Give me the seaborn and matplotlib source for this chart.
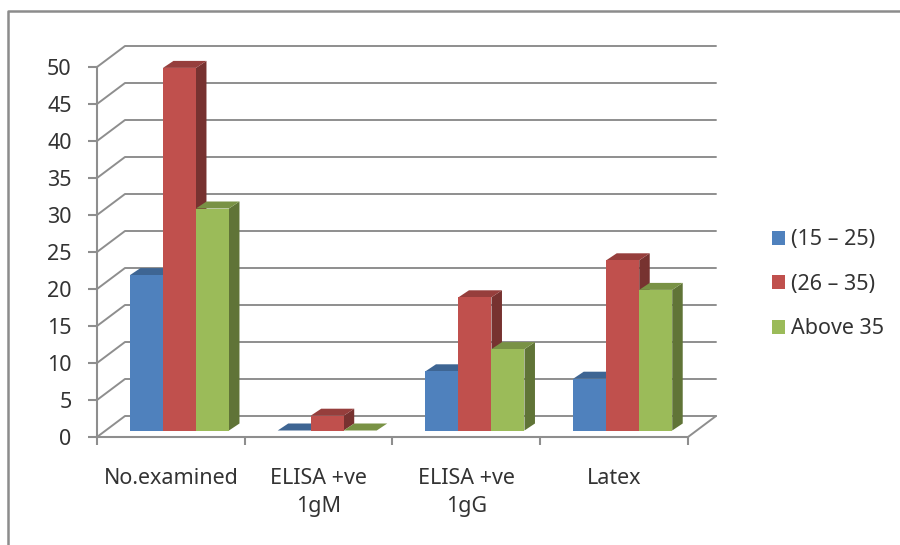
import numpy as np
import pandas as pd
import seaborn as sns
import matplotlib.pyplot as plt
from matplotlib.colors import to_rgb
from matplotlib.lines import Line2D
from matplotlib.patches import Polygon

tests = ["No.examined", "ELISA +ve\n1gM", "ELISA +ve\n1gG", "Latex"]
groups = ["(15 – 25)", "(26 – 35)", "Above 35"]
age_15_25 = [21, 0, 8, 7]
age_26_35 = [49, 2, 18, 23]
above_35 = [30, 0, 11, 19]
colors = ["#4F81BD", "#C0504D", "#9BBB59"]
y_ticks = list(range(0, 55, 5))

df = pd.DataFrame({
    "test": tests * 3,
    "group": np.repeat(groups, 4),
    "count": age_15_25 + age_26_35 + above_35,
})

W, H = 900, 545
sns.set_style("white")
plt.rcParams["font.family"] = ["Noto Sans", "DejaVu Sans"]

fig = plt.figure(figsize=(W / 100, H / 100), dpi=100)
# front plane of the fake 3d box, in pixels
left, right, y0, y50 = 97, 688, 437, 67
ax = fig.add_axes([left / W, (H - y0) / H, (right - left) / W, (y0 - y50) / H])
ax.patch.set_alpha(0)

sns.barplot(data=df, x="test", y="count", hue="group", hue_order=groups,
            palette=colors, width=0.67, gap=0, saturation=1, ax=ax)
ax.set_xlim(-0.5, 3.5)
ax.set_ylim(0, 50)

px_x = 4 / (right - left)
px_y = 50 / (y0 - y50)
grey = "#8e8e8e"

# back wall and floor
wall_dx, wall_dy = 28 * px_x, 21 * px_y
for v in y_ticks:
    ax.plot([-0.5, -0.5 + wall_dx, 3.5 + wall_dx], [v, v + wall_dy, v + wall_dy],
            color=grey, lw=1.4, clip_on=False, zorder=1)
ax.plot([3.5, 3.5 + wall_dx], [0, wall_dy], color=grey, lw=1.4, clip_on=False, zorder=1)

# bars sit a bit behind the front plane, each with side and top faces
shift_x, shift_y = 8.6 * px_x, 6.5 * px_y
depth_x, depth_y = 10.5 * px_x, 7 * px_y
for i, (cont, col) in enumerate(zip(ax.containers, colors)):
    rgb = np.array(to_rgb(col))
    for bar in cont:
        x0 = bar.get_x() + shift_x
        x1 = x0 + bar.get_width()
        b = shift_y
        t = b + bar.get_height()
        bar.set_x(x0)
        bar.set_y(b)
        bar.set_linewidth(0)
        bar.set_clip_on(False)
        bar.set_zorder(5 + i + 0.2)
        ax.add_patch(Polygon([(x1, b), (x1 + depth_x, b + depth_y), (x1 + depth_x, t + depth_y), (x1, t)],
                             fc=rgb * 0.62, ec="none", clip_on=False, zorder=5 + i))
        ax.add_patch(Polygon([(x0, t), (x0 + depth_x, t + depth_y), (x1 + depth_x, t + depth_y), (x1, t)],
                             fc=rgb * 0.78, ec="none", clip_on=False, zorder=5 + i + 0.1))

# axes
sns.despine(ax=ax, top=True, right=True)
for s in ["left", "bottom"]:
    ax.spines[s].set_color(grey)
    ax.spines[s].set_linewidth(1.5)
ax.set_xlabel("")
ax.set_ylabel("")
ax.set_yticks(y_ticks)
ax.set_xticks(np.arange(-0.5, 4.5, 1))
ax.set_xticklabels([])
ax.set_xticks(range(len(tests)), tests, minor=True)
ax.tick_params(axis="x", which="major", bottom=True, length=5.5, width=1.5, color=grey)
ax.tick_params(axis="x", which="minor", bottom=False, length=0, pad=22, labelsize=15.5, labelcolor="#333333")
ax.tick_params(axis="y", left=True, length=6.2, width=1.5, color=grey, pad=12, labelsize=15.5, labelcolor="#333333")
for lab in ax.get_xticklabels(minor=True):
    lab.set_linespacing(1.45)

handles = [plt.Rectangle((0, 0), 1, 1, fc=c, ec="none") for c in colors]
ax.legend(handles, groups, loc="upper left", bbox_to_anchor=(753 / W, (H - 210) / H),
          bbox_transform=fig.transFigure, frameon=False, fontsize=15.5, labelcolor="#333333",
          handlelength=0.6, handleheight=0.6, handletextpad=0.28, labelspacing=1.09)

# picture frame
fig.add_artist(Line2D([8 / W, 8 / W, 1], [0, (H - 11) / H, (H - 11) / H], color="#8c8c8c", lw=1.8))

fig.savefig("out.png", dpi=100)
